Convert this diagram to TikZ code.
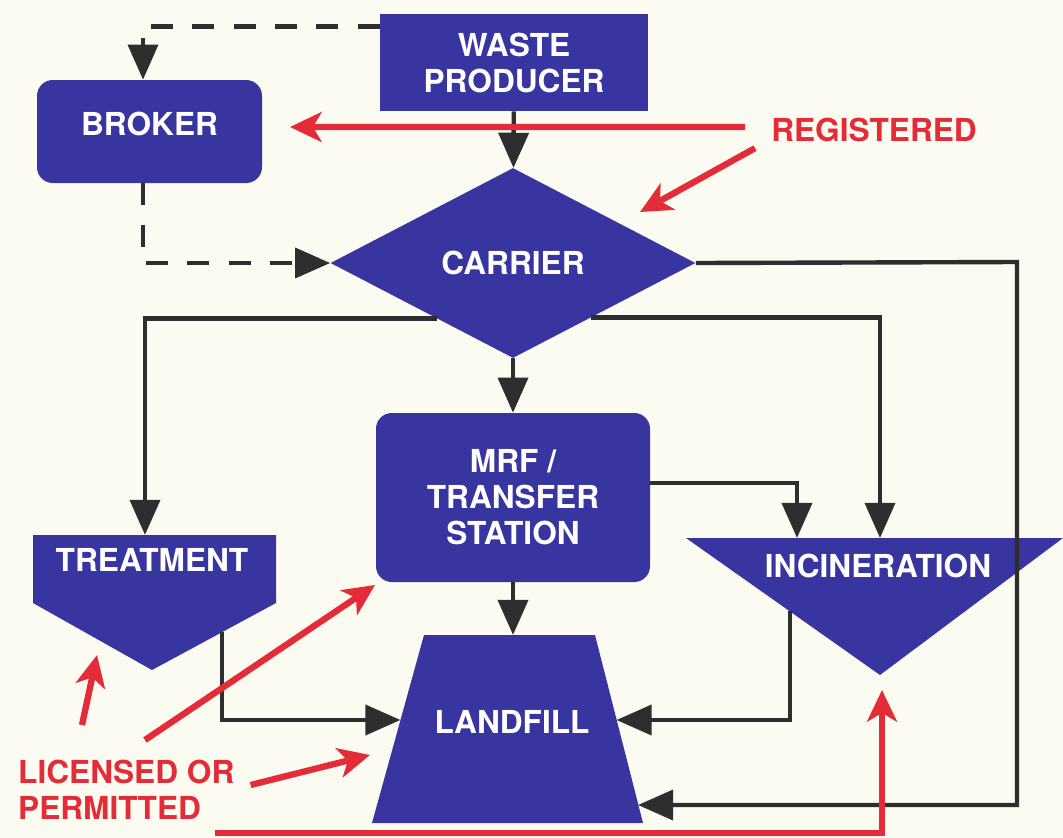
\documentclass[tikz,border=0pt]{standalone}
\usepackage{fontspec}
\setmainfont{TeX Gyre Heros}
\usepackage{tikz}
\usetikzlibrary{shapes,arrows.meta}
\definecolor{paper}{RGB}{251,251,242}
\definecolor{boxblue}{RGB}{56,52,160}
\definecolor{markred}{RGB}{228,44,56}
\tikzset{flow/.style={draw=black!82,line width=2.5pt,-{Triangle[width=17pt,length=20pt]}},
	dashflow/.style={flow,dash pattern=on 12.5pt off 11pt},
	redarrow/.style={draw=markred,line width=3.6pt,-{Stealth[width=17pt,length=18pt,inset=5pt]}}}
\tikzstyle{box}=[rectangle,fill=boxblue,text=white,font=\bfseries\fontsize{18}{20.5}\selectfont,align=center,inner sep=0pt]
\tikzstyle{roundbox}=[box,rounded corners=9pt]
\tikzstyle{decision}=[box,diamond,minimum width=7.3cm,minimum height=3.8cm]
\tikzstyle{inname}=[text=white,font=\bfseries\fontsize{18}{20.5}\selectfont,align=center]
\tikzstyle{redtext}=[text=markred,font=\bfseries\fontsize{18}{20.5}\selectfont,align=left]

\begin{document}
\begin{tikzpicture}
	\useasboundingbox (0,0) rectangle (21.26,-16.76);
	\fill[paper] (0,0) rectangle (21.26,-16.76);
	
	\node at (10.28,-1.25) [box,minimum width=5.36cm,minimum height=1.94cm] (1) {WASTE\\PRODUCER};
	\node at (2.99,-2.63) [roundbox,minimum width=4.5cm,minimum height=2.06cm,text depth=0.3cm] (2) {BROKER};
	\node at (10.26,-5.26) [decision] (3) {CARRIER};
	\node at (10.26,-9.95) [roundbox,minimum width=5.48cm,minimum height=3.38cm] (4) {MRF /\\TRANSFER\\STATION};
	
	% treatment, incineration, landfill
	\fill[boxblue] (0.66,-10.7) -- (5.52,-10.7) -- (5.52,-12.06) -- (3.04,-13.4) -- (0.66,-12.06) -- cycle;
	\fill[boxblue] (13.72,-10.76) -- (21.26,-10.76) -- (17.6,-13.5) -- cycle;
	\fill[boxblue] (8.48,-12.7) -- (11.9,-12.7) -- (12.86,-16.46) -- (7.44,-16.46) -- cycle;
	\node at (3.04,-11.2) [inname] (5) {TREATMENT};
	\node at (17.56,-11.32) [inname] (6) {INCINERATION};
	\node at (10.24,-14.44) [inname] (7) {LANDFILL};
	
	\coordinate (t1) at (2.9,-10.7);
	\coordinate (t2) at (4.44,-12.64);
	\coordinate (i1) at (17.6,-10.76);
	\coordinate (i2) at (15.94,-10.76);
	\coordinate (i3) at (15.8,-12.22);
	\coordinate (l1) at (10.26,-12.7);
	\coordinate (l2) at (8.01,-14.4);
	\coordinate (l3) at (12.33,-14.4);
	\coordinate (l4) at (12.76,-16.1);
	
	\node at (17.48,-2.6) [redtext] (8) {REGISTERED};
	\node at (0.24,-15.8) [redtext,anchor=west] (9) {LICENSED OR\\PERMITTED};
	
	\draw [dashflow] (1.north west) ++(0,-0.26) -| ([xshift=-0.13cm]2.north);
	\draw [dashflow] ([xshift=-0.13cm]2.south) |- (3.west);
	\draw [flow] (1) -- (3);
	\draw [flow] (3.-144.5) -| (t1);
	\draw [flow] (3.-35.5) -| (i1);
	\draw [flow] (3) -- (4);
	\draw [flow] (3.east) -- (20.34,-5.24) |- (l4);
	\draw [flow] ([yshift=0.29cm]4.east) -| (i2);
	\draw [flow] (4) -- (l1);
	\draw [flow] (t2) |- (l2);
	\draw [flow] (i3) |- (l3);
	
	\draw [redarrow] ([xshift=-0.4cm,yshift=0.06cm]8.west) -- (5.8,-2.54);
	\draw [redarrow] ([xshift=-0.2cm]8.south west) -- (12.8,-4.24);
	\draw [redarrow] (1.64,-14.5) -- (1.94,-13.1);
	\draw [redarrow] (2.9,-14.8) -- (7.5,-11.7);
	\draw [redarrow] ([xshift=0.2cm,yshift=0.1cm]9.east) -- (7.4,-15.1);
	\draw [redarrow] (4.3,-16.66) -| (17.64,-13.8);
\end{tikzpicture}
\end{document}
